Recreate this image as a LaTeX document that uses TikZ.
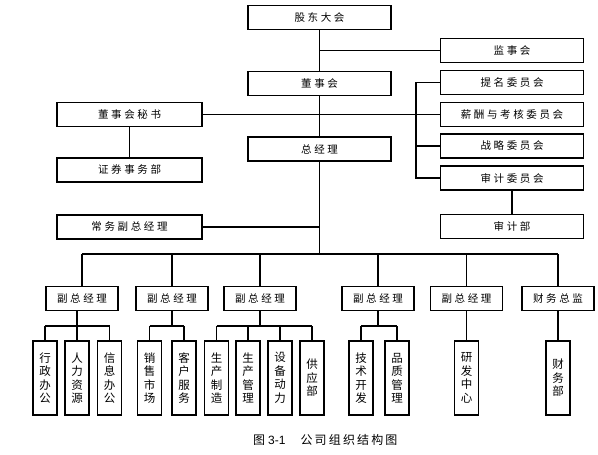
\documentclass[tikz,border=0pt]{standalone}
\usepackage{fontspec}
\newfontfamily\cjksp[LetterSpace=25]{Noto Sans CJK SC}
\newfontfamily\cjk{Noto Sans CJK SC}
\newfontfamily\cjkcap[LetterSpace=18]{Noto Sans CJK SC}
\newfontfamily\capnum{Liberation Sans}
\setmainfont{Liberation Serif}

\begin{document}
\begin{tikzpicture}[x=1pt,y=-1pt,
    box/.style={draw,line width=1.8pt,minimum width=143pt,minimum height=24pt,inner sep=0pt,
        font=\cjksp\fontsize{10.5}{12}\selectfont},
    vp/.style={box,minimum width=72pt},
    dept/.style={draw,line width=1.8pt,minimum width=24pt,minimum height=74pt,inner sep=0pt,
        align=center,font=\cjk\fontsize{11.5}{13.5}\selectfont},
    link/.style={line width=1.1pt}]
    \useasboundingbox (0,0) rectangle (598,455);

    \node[box] (gd) at (319.5,17.5) {股东大会};
    \node[box] (jsh) at (512,50.5) {监事会};
    \node[box] (dsh) at (319.5,83.5) {董事会};
    \node[box] (zjl) at (319.5,149) {总经理};
    \node[box] (tm) at (512,82.5) {提名委员会};
    \node[box] (xc) at (512,114.5) {薪酬与考核委员会};
    \node[box] (zl) at (512,146) {战略委员会};
    \node[box] (sj) at (512,178) {审计委员会};
    \node[box] (sjb) at (512,226.5) {审计部};
    \node[box,minimum width=145pt] (ms) at (129.5,114.5) {董事会秘书};
    \node[box,minimum width=145pt] (zq) at (129.5,170) {证券事务部};
    \node[box,minimum width=145pt] (cw) at (129.5,227) {常务副总经理};

    \coordinate (br) at (416,0);
    \coordinate (bus) at (0,254);
    \coordinate (sub) at (0,326);

    \node[vp] (v1) at (82,298.5) {副总经理};
    \node[vp] (v2) at (172,298.5) {副总经理};
    \node[vp] (v3) at (260,298.5) {副总经理};
    \node[vp] (v4) at (378,298.5) {副总经理};
    \node[vp] (v5) at (466.5,298.5) {副总经理};
    \node[vp] (v6) at (558,298.5) {财务总监};

    \node[dept] (d11) at (45,378) {行\\政\\办\\公};
    \node[dept] (d12) at (77,378) {人\\力\\资\\源};
    \node[dept] (d13) at (109.5,378) {信\\息\\办\\公};
    \node[dept] (d21) at (149.5,378) {销\\售\\市\\场};
    \node[dept] (d22) at (184,378) {客\\户\\服\\务};
    \node[dept] (d31) at (216.5,378) {生\\产\\制\\造};
    \node[dept] (d32) at (248,378) {生\\产\\管\\理};
    \node[dept] (d33) at (280,378) {设\\备\\动\\力};
    \node[dept] (d34) at (312,378) {供\\应\\部};
    \node[dept] (d41) at (361,378) {技\\术\\开\\发};
    \node[dept] (d42) at (397,378) {品\\质\\管\\理};
    \node[dept] (d51) at (466.5,378) {研\\发\\中\\心};
    \node[dept] (d61) at (558,378) {财\\务\\部};

    \node[anchor=west,inner sep=0pt,font=\fontsize{12}{13}\selectfont] (cap) at (253,440)
        {{\cjk 图}\hspace{3pt}{\capnum 3-1}\hspace{15pt}{\cjkcap 公司组织结构图}};

    \draw[link] (gd) -- (dsh) -- (zjl) -- (zjl |- bus);
    \draw[link] (jsh) -- (jsh -| gd);
    \draw[link] (ms) -- (xc);
    \draw[link] (ms) -- (zq);
    \draw[link] (cw) -- (cw -| zjl);
    \draw[link] (tm.west) -- (tm.west -| br) -- (sj.west -| br) -- (sj.west);
    \draw[link] (zl.west) -- (zl.west -| br);
    \draw[link] (sj) -- (sjb);

    \draw[link] (v1 |- bus) -- (v6 |- bus);
    \foreach \v in {v1,v2,v3,v4,v5,v6}
        \draw[link] (\v) -- (\v |- bus);

    \foreach \v/\m/\a/\b in {v1/d12/d11/d13,v2/v2/d21/d22,v3/v3/d31/d34,v4/v4/d41/d42}
        \draw[link] (\m |- \v.south) -- (\m |- sub) (\a |- sub) -- (\b |- sub);
    \foreach \d in {d11,d12,d13,d21,d22,d31,d32,d33,d34,d41,d42}
        \draw[link] (\d) -- (\d |- sub);
    \draw[link] (v5) -- (d51);
    \draw[link] (v6) -- (d61);
\end{tikzpicture}
\end{document}
